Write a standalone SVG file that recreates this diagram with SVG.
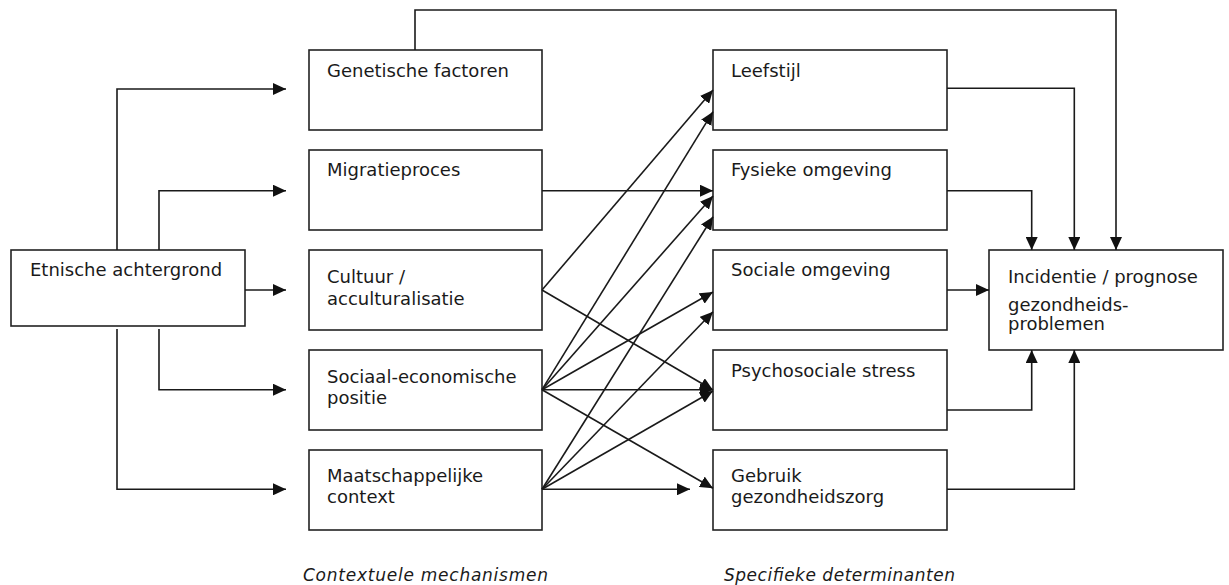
<svg xmlns="http://www.w3.org/2000/svg" width="1229" height="585" viewBox="0 0 1229 585">
<style>
.box{fill:#fff;stroke:#222;stroke-width:1.6}
.t{font-family:"DejaVu Sans",sans-serif;font-size:18px;fill:#1a1a1a}
.cap{font-family:"DejaVu Sans",sans-serif;font-size:17px;font-style:italic;fill:#1a1a1a}
.c path{fill:none;stroke:#1a1a1a;stroke-width:1.6;marker-end:url(#ah)}
</style>
<defs>
<marker id="ah" markerUnits="userSpaceOnUse" markerWidth="14" markerHeight="12" refX="13" refY="6" orient="auto">
<path d="M0,0 L13,6 L0,12 z" fill="#111"/>
</marker>
</defs>
<rect width="1229" height="585" fill="#fff"/>
<g id="n-etnisch"><rect class="box" x="11" y="250" width="234" height="76"/><text class="t" x="30" y="276">Etnische achtergrond</text></g>
<g id="n-genetisch"><rect class="box" x="309" y="50" width="233" height="80"/><text class="t" x="327" y="77">Genetische factoren</text></g>
<g id="n-migratie"><rect class="box" x="309" y="150" width="233" height="80"/><text class="t" x="327" y="176">Migratieproces</text></g>
<g id="n-cultuur"><rect class="box" x="309" y="250" width="233" height="80"/><text class="t" x="327" y="283">Cultuur /</text><text class="t" x="327" y="305">acculturalisatie</text></g>
<g id="n-sociaal"><rect class="box" x="309" y="350" width="233" height="80"/><text class="t" x="327" y="383">Sociaal-economische</text><text class="t" x="327" y="404">positie</text></g>
<g id="n-maats"><rect class="box" x="309" y="450" width="233" height="80"/><text class="t" x="327" y="482">Maatschappelijke</text><text class="t" x="327" y="503">context</text></g>
<g id="n-leefstijl"><rect class="box" x="713" y="50" width="234" height="80"/><text class="t" x="731" y="77">Leefstijl</text></g>
<g id="n-fysiek"><rect class="box" x="713" y="150" width="234" height="80"/><text class="t" x="731" y="176">Fysieke omgeving</text></g>
<g id="n-sociale"><rect class="box" x="713" y="250" width="234" height="80"/><text class="t" x="731" y="276">Sociale omgeving</text></g>
<g id="n-psycho"><rect class="box" x="713" y="350" width="234" height="80"/><text class="t" x="731" y="377">Psychosociale stress</text></g>
<g id="n-gebruik"><rect class="box" x="713" y="450" width="234" height="80"/><text class="t" x="731" y="482">Gebruik</text><text class="t" x="731" y="503">gezondheidszorg</text></g>
<g id="n-incidentie"><rect class="box" x="989" y="250" width="234" height="100"/><text class="t" x="1008" y="283">Incidentie / prognose</text><text class="t" x="1008" y="311">gezondheids-</text><text class="t" x="1008" y="330">problemen</text></g>
<g id="captions">
<text class="cap" x="303" y="581" textLength="245" lengthAdjust="spacing">Contextuele mechanismen</text>
<text class="cap" x="724" y="581" textLength="231" lengthAdjust="spacing">Specifieke determinanten</text>
</g>
<g id="connectors" class="c">
<path d="M117,250 V89 H286"/>
<path d="M159,250 V190.7 H286"/>
<path d="M245,290 H286"/>
<path d="M159,329 V389.7 H286"/>
<path d="M117,329 V489.3 H286"/>
<path d="M542,190.7 H713"/>
<path d="M542,290 L713,90"/>
<path d="M542,290 L713,390"/>
<path d="M542,389.7 L713,111.7"/>
<path d="M542,389.7 L713,196"/>
<path d="M542,389.7 L713,292"/>
<path d="M542,389.7 L713,389.7"/>
<path d="M542,389.7 L713,488.3"/>
<path d="M542,489.3 L713,216.7"/>
<path d="M542,489.3 L713,311.7"/>
<path d="M542,489.3 L713,391"/>
<path d="M542,489.3 H690"/>
<path d="M415,50 V10 H1116 V250"/>
<path d="M947,88.3 H1074.3 V250"/>
<path d="M947,190.7 H1031.7 V250"/>
<path d="M947,290 H989"/>
<path d="M947,410 H1031.7 V350"/>
<path d="M947,489.3 H1074.3 V350"/>
</g>
</svg>
